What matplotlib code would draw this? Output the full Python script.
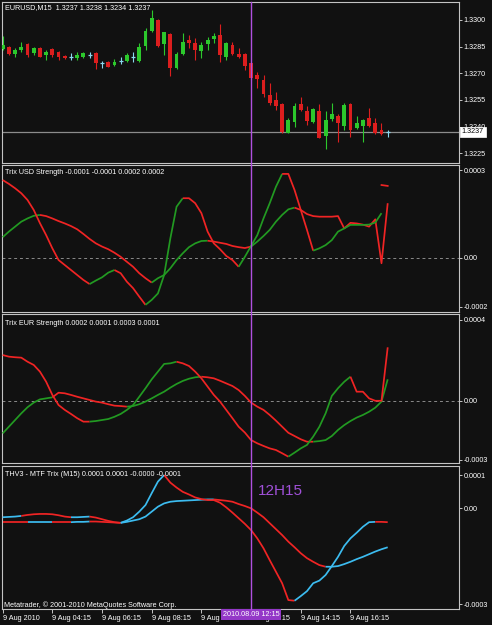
import numpy as np
import matplotlib
matplotlib.use("Agg")
import matplotlib.pyplot as plt
from matplotlib.lines import Line2D
from matplotlib.transforms import blended_transform_factory

plt.rcParams['font.family'] = ['Liberation Sans', 'DejaVu Sans']

# ---------------- data ----------------
bars = np.arange(63)

opens = [1.32837, 1.32848, 1.32809, 1.32831, 1.32865, 1.32814, 1.32843, 1.32803, 1.32837, 1.32820,
         1.32798, 1.32792, 1.32786, 1.32792, 1.32803, 1.32814, 1.32758, 1.32764, 1.32747, 1.32769,
         1.32769, 1.32792, 1.32769, 1.32856, 1.32938, 1.33000, 1.32865, 1.32920, 1.32728, 1.32809,
         1.32888, 1.32869, 1.32827, 1.32863, 1.32891, 1.32916, 1.32790, 1.32859, 1.32809, 1.32807,
         1.32760, 1.32691, 1.32663, 1.32578, 1.32550, 1.32528, 1.32364, 1.32427, 1.32528, 1.32490,
         1.32425, 1.32490, 1.32348, 1.32443, 1.32462, 1.32406, 1.32528, 1.32394, 1.32406, 1.32447,
         1.32422, 1.32381, 1.32370]
highs = [1.32910, 1.32854, 1.32843, 1.32876, 1.32871, 1.32848, 1.32848, 1.32831, 1.32843, 1.32823,
         1.32803, 1.32814, 1.32820, 1.32820, 1.32820, 1.32820, 1.32769, 1.32767, 1.32781, 1.32792,
         1.32814, 1.32820, 1.32871, 1.32955, 1.33056, 1.33003, 1.32934, 1.32925, 1.32822, 1.32929,
         1.32916, 1.32897, 1.32875, 1.32903, 1.32925, 1.32978, 1.32878, 1.32878, 1.32844, 1.32813,
         1.32766, 1.32708, 1.32691, 1.32646, 1.32595, 1.32533, 1.32449, 1.32535, 1.32569, 1.32518,
         1.32505, 1.32528, 1.32490, 1.32531, 1.32471, 1.32531, 1.32535, 1.32460, 1.32441, 1.32507,
         1.32450, 1.32419, 1.32380]
lows = [1.32831, 1.32803, 1.32792, 1.32820, 1.32792, 1.32803, 1.32790, 1.32775, 1.32792, 1.32775,
        1.32781, 1.32775, 1.32775, 1.32786, 1.32786, 1.32724, 1.32730, 1.32736, 1.32741, 1.32753,
        1.32764, 1.32764, 1.32764, 1.32831, 1.32934, 1.32850, 1.32803, 1.32687, 1.32724, 1.32803,
        1.32841, 1.32775, 1.32785, 1.32831, 1.32869, 1.32766, 1.32775, 1.32803, 1.32785, 1.32719,
        1.32663, 1.32618, 1.32567, 1.32522, 1.32494, 1.32364, 1.32364, 1.32400, 1.32488, 1.32409,
        1.32420, 1.32335, 1.32273, 1.32434, 1.32316, 1.32381, 1.32340, 1.32387, 1.32316, 1.32396,
        1.32357, 1.32353, 1.32340]
closes = [1.32859, 1.32809, 1.32831, 1.32848, 1.32803, 1.32843, 1.32792, 1.32820, 1.32803, 1.32792,
          1.32786, 1.32792, 1.32803, 1.32814, 1.32803, 1.32758, 1.32758, 1.32738, 1.32764, 1.32769,
          1.32803, 1.32792, 1.32848, 1.32938, 1.33010, 1.32856, 1.32934, 1.32728, 1.32807, 1.32875,
          1.32872, 1.32831, 1.32859, 1.32888, 1.32912, 1.32803, 1.32869, 1.32809, 1.32790, 1.32743,
          1.32675, 1.32668, 1.32584, 1.32533, 1.32516, 1.32370, 1.32438, 1.32518, 1.32494, 1.32432,
          1.32499, 1.32338, 1.32438, 1.32470, 1.32419, 1.32522, 1.32381, 1.32422, 1.32438, 1.32406,
          1.32362, 1.32359, 1.32370]
last_price = 1.3237

# Trix USD Strength (units of 0.0001)
usd_fast = np.array([2.66, 2.53, 2.38, 2.21, 1.98, 1.64, 1.19, 0.78, 0.33, -0.07,
                     -0.24, -0.41, -0.58, -0.75, -0.89, -0.77, -0.66, -0.50, -0.41, -0.52,
                     -0.81, -1.03, -1.32, -1.60, -1.43, -1.21, -0.58, 0.67, 1.75, 2.04,
                     2.04, 1.87, 1.53, 0.90, 0.50, 0.30, 0.07, -0.07, -0.30, 0.04,
                     0.41, 0.78, 1.35, 1.87, 2.43, 2.87, 2.87, 2.32, 1.64, 0.96,
                     0.25, 0.33, 0.44, 0.61, 0.90, 1.01, 1.13, 1.13, 1.13, 1.14,
                     1.21, 1.53, np.nan]) * 1e-4
usd_slow = np.array([0.71, 0.90, 1.07, 1.24, 1.35, 1.44, 1.47, 1.43, 1.35, 1.26,
                     1.18, 1.09, 0.98, 0.82, 0.65, 0.50, 0.39, 0.30, 0.18, 0.04,
                     -0.13, -0.30, -0.52, -0.69, -0.84, -0.69, -0.58, -0.35, -0.07, 0.16,
                     0.37, 0.50, 0.58, 0.59, 0.56, 0.52, 0.48, 0.41, 0.37, 0.34,
                     0.39, 0.56, 0.75, 0.96, 1.24, 1.47, 1.66, 1.72, 1.64, 1.50,
                     1.43, 1.41, 1.41, 1.41, 1.43, 1.01, 1.20, 1.18, 1.14, 1.07,
                     1.32, -0.18, 1.87]) * 1e-4
usd_slow_tail = np.array([2.49, 2.46]) * 1e-4
usd_fast_state = "D" * 14 + "U" * 4 + "D" * 5 + "U" * 6 + "D" * 9 + "U" * 7 + "D" * 5 + "U" * 12
usd_slow_state = "U" * 6 + "D" * 18 + "U" * 9 + "D" * 7 + "U" * 7 + "D" * 15

# Trix EUR Strength (units of 0.0001)
eur_fast = np.array([2.27, 2.19, 2.16, 2.14, 1.94, 1.78, 1.45, 0.95, 0.30, -0.20,
                     -0.44, -0.64, -0.85, -1.02, -1.02, -0.99, -0.94, -0.89, -0.78, -0.64,
                     -0.44, -0.20, 0.21, 0.63, 1.07, 1.45, 1.83, 1.86, 1.94, 1.86,
                     1.73, 1.45, 1.12, 0.71, 0.30, -0.03, -0.44, -0.85, -1.27, -1.56,
                     -1.93, -2.09, -2.22, -2.34, -2.42, -2.58, -2.75, -2.55, -2.34, -2.17,
                     -1.76, -1.27, -0.61, 0.25, 0.63, 0.95, 1.20, 0.46, 0.46, 0.13,
                     0.01, 0.01, 2.65]) * 1e-4
eur_slow = np.array([-1.60, -1.27, -0.94, -0.61, -0.31, -0.08, 0.08, 0.13, 0.18, 0.41,
                     0.38, 0.30, 0.21, 0.13, 0.05, -0.03, -0.08, -0.16, -0.23, -0.25,
                     -0.28, -0.25, -0.16, -0.03, 0.13, 0.30, 0.46, 0.66, 0.84, 0.99,
                     1.10, 1.17, 1.20, 1.17, 1.12, 1.00, 0.87, 0.74, 0.54, 0.25,
                     -0.08, -0.28, -0.44, -0.69, -0.97, -1.27, -1.57, -1.73, -1.89, -2.01,
                     -2.01, -1.98, -1.93, -1.73, -1.43, -1.19, -0.99, -0.82, -0.69, -0.53,
                     -0.33, -0.03, 1.07]) * 1e-4
eur_fast_state = "D" * 14 + "U" * 14 + "D" * 18 + "U" * 10 + "D" * 6
eur_slow_state = "U" * 8 + "D" * 12 + "U" * 12 + "D" * 18 + "U" * 12

# THV3 - MTF Trix (units of 0.0001)
mtf_fast = np.array([-0.28, -0.27, -0.26, -0.24, -0.21, -0.19, -0.18, -0.18, -0.19, -0.22,
                     -0.26, -0.28, -0.28, -0.27, -0.26, -0.29, -0.34, -0.39, -0.43, -0.45,
                     -0.38, -0.28, -0.11, 0.09, 0.45, 0.80, 1.00, 0.77, 0.62, 0.49,
                     0.41, 0.32, 0.27, 0.24, 0.24, 0.16, 0.02, -0.14, -0.31, -0.48,
                     -0.67, -0.92, -1.22, -1.58, -1.93, -2.28, -2.79, -2.81, -2.67, -2.52,
                     -2.28, -2.20, -2.03, -1.76, -1.48, -1.15, -0.92, -0.75, -0.57, -0.43,
                     -0.42, -0.42, -0.43]) * 1e-4
mtf_slow = np.array([-0.43, -0.43, -0.43, -0.43, -0.43, -0.43, -0.43, -0.43, -0.43, -0.43,
                     -0.43, -0.43, -0.42, -0.42, -0.41, -0.41, -0.42, -0.43, -0.44, -0.45,
                     -0.42, -0.38, -0.34, -0.26, -0.11, 0.04, 0.14, 0.19, 0.21, 0.22,
                     0.23, 0.24, 0.25, 0.26, 0.26, 0.24, 0.22, 0.19, 0.12, 0.06,
                     -0.01, -0.14, -0.28, -0.46, -0.64, -0.82, -1.02, -1.19, -1.37, -1.52,
                     -1.63, -1.73, -1.78, -1.78, -1.76, -1.70, -1.63, -1.55, -1.48, -1.40,
                     -1.32, -1.25, -1.19]) * 1e-4
mtf_fast_state = "U" * 3 + "D" * 8 + "U" * 3 + "D" * 5 + "U" * 7 + "D" * 21 + "U" * 13 + "D" * 2
mtf_slow_state = "D" * 4 + "U" * 4 + "D" * 3 + "U" * 3 + "D" * 5 + "U" * 15 + "D" * 18 + "U" * 10

price_ticks = [1.3300, 1.3285, 1.3270, 1.3255, 1.3240, 1.3225]
price_labels = ["1.3300", "1.3285", "1.3270", "1.3255", "1.3240", "1.3225"]
usd_ticks = [0.0003, 0.0, -0.000167]
usd_labels = ["0.0003", "0.00", "-0.0002"]
eur_ticks = [0.0004, 0.0, -0.000291]
eur_labels = ["0.0004", "0.00", "-0.0003"]
mtf_ticks = [0.0001, 0.0, -0.000291]
mtf_labels = ["0.0001", "0.00", "-0.0003"]

time_bars = [0, 8, 16, 24, 32, 40, 48, 56]
time_labels = ["9 Aug 2010", "9 Aug 04:15", "9 Aug 06:15", "9 Aug 08:15",
               "9 Aug 10:15", "9 Aug 12:15", "9 Aug 14:15", "9 Aug 16:15"]
cursor_bar = 40
cursor_label = "2010.08.09 12:15"

titles = ["EURUSD,M15  1.3237 1.3238 1.3234 1.3237",
          "Trix USD Strength -0.0001 -0.0001 0.0002 0.0002",
          "Trix EUR Strength 0.0002 0.0001 0.0003 0.0001",
          "THV3 - MTF Trix (M15) 0.0001 0.0001 -0.0000 -0.0001"]

# ---------------- style ----------------
W, H = 492, 625
BG = '#111111'
FRAME = '#c4c4c4'
BULL = '#2cc82c'
BEAR = '#dc1e1e'
DOJI = '#8ad8ee'
IND_UP = '#229a22'
IND_DN = '#f02424'
MTF_UP = '#3cbcf0'
CURSOR = '#b050e0'
FS = 5.2

fig = plt.figure(figsize=(W / 100, H / 100), dpi=100, facecolor=BG)


def rect(x0, y0, x1, y1):
    return [x0 / W, 1 - y1 / H, (x1 - x0) / W, (y1 - y0) / H]


XL = (-0.108, 73.48)
panels = [(1.7, 162.5, (1.321984, 1.331029)),
          (164.5, 311.7, (-1.833e-4, 3.191e-4)),
          (314.0, 463.3, (-3.077e-4, 4.296e-4)),
          (465.7, 609.3, (-3.07e-4, 1.282e-4))]
axes = []
for (y0, y1, yl) in panels:
    ax = fig.add_axes(rect(2, y0, 459, y1))
    ax.set_facecolor(BG)
    ax.set_xlim(*XL)
    ax.set_ylim(*yl)
    for s in ax.spines.values():
        s.set_color(FRAME)
        s.set_linewidth(0.8)
    ax.yaxis.tick_right()
    ax.tick_params(axis='y', colors=FRAME, labelcolor='white', length=2.5, width=0.7,
                   labelsize=FS, pad=1)
    ax.tick_params(axis='x', bottom=False, labelbottom=False)
    axes.append(ax)
ax1, ax2, ax3, ax4 = axes

# ---- candles ----
o = np.array(opens); h = np.array(highs); l = np.array(lows); c = np.array(closes)
cols = np.where(c > o, BULL, np.where(c < o, BEAR, DOJI))
ax1.vlines(bars, l, h, colors=cols, lw=0.8, zorder=3)
body = np.abs(c - o)
mask = body > 0
ax1.bar(bars[mask], body[mask], bottom=np.minimum(o, c)[mask], width=0.62,
        color=cols[mask], linewidth=0, zorder=4)
ax1.hlines(c[~mask], bars[~mask] - 0.33, bars[~mask] + 0.33, colors=DOJI, lw=0.9, zorder=4)
ax1.axhline(last_price, color='#8c8c8c', lw=0.9, zorder=2)
ax1.set_yticks(price_ticks)
ax1.set_yticklabels(price_labels)
ax1.text(1.006, last_price, "1.3237", transform=blended_transform_factory(ax1.transAxes, ax1.transData),
         ha='left', va='center', fontsize=FS, color='black', clip_on=False, zorder=10,
         bbox=dict(boxstyle='square,pad=0.25', fc='white', ec='white', lw=0.5))


def state_line(ax, vals, states, up, dn, lw=1.25):
    n = len(states)
    i = 0
    while i < n:
        j = i
        while j < n and states[j] == states[i]:
            j += 1
        ax.plot(bars[i:j + 1], vals[i:j + 1], color=up if states[i] == 'U' else dn,
                lw=lw, solid_capstyle='butt', zorder=3)
        i = j


for ax in (ax2, ax3):
    ax.axhline(0, color='#8a8a8a', lw=0.7, ls=(0, (3, 3)), zorder=1)

state_line(ax2, usd_slow, usd_slow_state, IND_UP, IND_DN)
state_line(ax2, usd_fast, usd_fast_state, IND_UP, IND_DN)
ax2.plot(bars[61:63], usd_slow_tail, color=IND_DN, lw=1.25, zorder=3)
ax2.set_yticks(usd_ticks); ax2.set_yticklabels(usd_labels)

state_line(ax3, eur_slow, eur_slow_state, IND_UP, IND_DN)
state_line(ax3, eur_fast, eur_fast_state, IND_UP, IND_DN)
ax3.set_yticks(eur_ticks); ax3.set_yticklabels(eur_labels)

state_line(ax4, mtf_slow, mtf_slow_state, MTF_UP, IND_DN)
state_line(ax4, mtf_fast, mtf_fast_state, MTF_UP, IND_DN)
ax4.set_yticks(mtf_ticks); ax4.set_yticklabels(mtf_labels)

# time axis
ax4.set_xticks(time_bars)
ax4.set_xticklabels(time_labels, ha='left')
ax4.tick_params(axis='x', bottom=True, labelbottom=True, colors=FRAME, labelcolor='white',
                length=3, width=0.7, labelsize=FS, pad=1.2)
ax4.text(cursor_bar, -0.012, cursor_label, transform=blended_transform_factory(ax4.transData, ax4.transAxes),
         ha='center', va='top', fontsize=FS, color='white', clip_on=False, zorder=10,
         bbox=dict(boxstyle='square,pad=0.25', fc='#9438c8', ec='none'))

# cursor line across all panels
xc = ax1.transData.transform((cursor_bar, 0))[0]
xf = fig.transFigure.inverted().transform((xc, 0))[0]
fig.add_artist(Line2D([xf, xf], [1 - 1.7 / H, 1 - 609.3 / H], color=CURSOR, lw=1.0, zorder=20))

# titles and texts
for (ty, t) in zip([7.5, 172.7, 323.3, 475.0], titles):
    fig.text(5 / W, 1 - ty / H, t, color='white', fontsize=FS, va='center', ha='left')
fig.text(4 / W, 1 - 605.5 / H, "Metatrader, \u00a9 2001-2010 MetaQuotes Software Corp.",
         color='white', fontsize=FS, va='center', ha='left')
fig.text(258 / W, 1 - 491 / H, "12H15", color='#a050d8', fontsize=11, va='center', ha='left')

fig.savefig("out.png", dpi=100, facecolor=BG)
